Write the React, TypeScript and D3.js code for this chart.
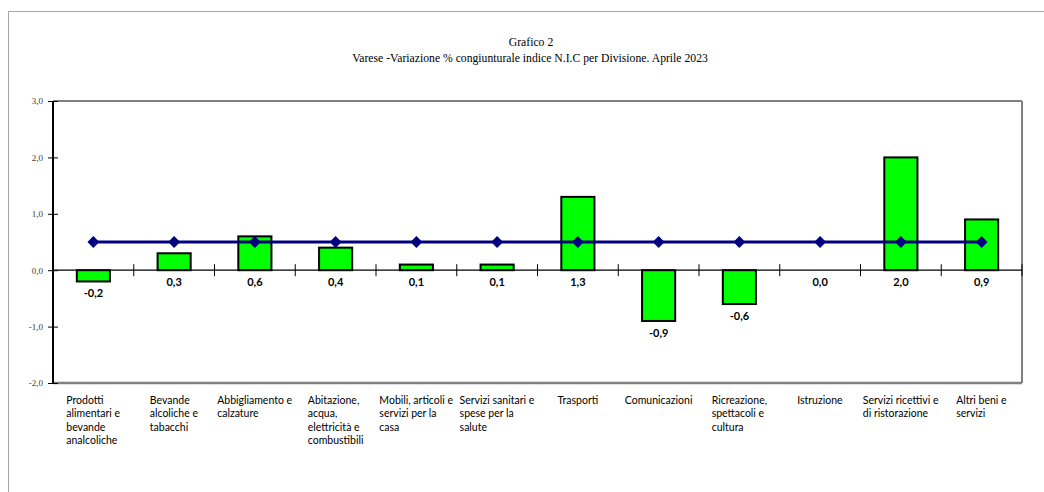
import React, { useEffect, useRef } from "react";
import * as d3 from "d3";

const categories = [
  ["Prodotti", "alimentari e", "bevande", "analcoliche"],
  ["Bevande", "alcoliche e", "tabacchi"],
  ["Abbigliamento e", "calzature"],
  ["Abitazione,", "acqua,", "elettricità e", "combustibili"],
  ["Mobili, articoli e", "servizi per la", "casa"],
  ["Servizi sanitari e", "spese per la", "salute"],
  ["Trasporti"],
  ["Comunicazioni"],
  ["Ricreazione,", "spettacoli e", "cultura"],
  ["Istruzione"],
  ["Servizi ricettivi e", "di ristorazione"],
  ["Altri beni e", "servizi"],
];
const varese = [-0.2, 0.3, 0.6, 0.4, 0.1, 0.1, 1.3, -0.9, -0.6, 0.0, 2.0, 0.9];
const generale = [0.5, 0.5, 0.5, 0.5, 0.5, 0.5, 0.5, 0.5, 0.5, 0.5, 0.5, 0.5];
const yTicks = [-2, -1, 0, 1, 2, 3];

const fmt = (v: number) => v.toFixed(1).replace(".", ",");

export default function App() {
  const ref = useRef<SVGSVGElement>(null);

  useEffect(() => {
    const width = 1044;
    const height = 492;
    const margin = { top: 101, right: 22, bottom: 109, left: 53 };
    const innerW = width - margin.left - margin.right;
    const innerH = height - margin.top - margin.bottom;

    const svg = d3.select(ref.current).attr("width", width).attr("height", height);
    svg.selectAll("*").remove();

    // outer frame
    svg.append("rect").attr("x", 8.5).attr("y", 11.5).attr("width", 1100).attr("height", 600)
      .attr("fill", "none").attr("stroke", "#a6a6a6").attr("stroke-width", 1);

    svg.append("text").attr("x", 531).attr("y", 46).attr("text-anchor", "middle")
      .attr("font-family", "'Liberation Serif', serif").attr("font-size", 11.7).text("Grafico 2");
    svg.append("text").attr("x", 530).attr("y", 62).attr("text-anchor", "middle")
      .attr("font-family", "'Liberation Serif', serif").attr("font-size", 11.7)
      .text("Varese -Variazione % congiunturale indice N.I.C per Divisione. Aprile 2023");

    const g = svg.append("g").attr("transform", `translate(${margin.left},${margin.top})`);

    const x = d3.scaleBand<number>().domain(d3.range(categories.length)).range([0, innerW]).paddingInner(0).paddingOuter(0);
    const y = d3.scaleLinear().domain([-2, 3]).range([innerH, 0]);

    // plot border (top, right gray; bottom thick gray)
    g.append("line").attr("x1", 0).attr("x2", innerW).attr("y1", 0).attr("y2", 0).attr("stroke", "#808080").attr("stroke-width", 2);
    g.append("line").attr("x1", innerW).attr("x2", innerW).attr("y1", 0).attr("y2", innerH).attr("stroke", "#808080").attr("stroke-width", 2);
    g.append("line").attr("x1", 0).attr("x2", innerW).attr("y1", innerH).attr("y2", innerH).attr("stroke", "#808080").attr("stroke-width", 2.5);

    // y axis
    const yAxis = g.append("g").call(d3.axisLeft(y).tickValues(yTicks).tickSize(0).tickFormat((d) => fmt(+d)));
    yAxis.select(".domain").remove();
    yAxis.selectAll(".tick line").remove();
    yAxis.selectAll(".tick").append("line").attr("x1", -5).attr("x2", 5).attr("stroke", "#000");
    yAxis.selectAll("text").attr("x", -10).attr("font-family", "'Liberation Serif', serif")
      .attr("font-size", 9).attr("fill", "#404040");
    g.append("line").attr("x1", 0).attr("x2", 0).attr("y1", 0).attr("y2", innerH).attr("stroke", "#000").attr("stroke-width", 2);

    // bars
    const bw = x.bandwidth() * 0.41;
    g.selectAll(".bar").data(varese).join("rect").attr("class", "bar")
      .attr("x", (d, i) => x(i)! + x.bandwidth() / 2 - bw / 2)
      .attr("y", (d) => y(Math.max(0, d)))
      .attr("width", bw)
      .attr("height", (d) => Math.abs(y(d) - y(0)))
      .attr("fill", "#00ff00").attr("stroke", "#000").attr("stroke-width", 2)
      .style("display", (d) => (d === 0 ? "none" : null));

    // zero line + category ticks
    g.append("line").attr("x1", 0).attr("x2", innerW).attr("y1", y(0)).attr("y2", y(0)).attr("stroke", "#000").attr("stroke-width", 1.2);
    g.selectAll(".ctick").data(d3.range(1, categories.length + 1)).join("line").attr("class", "ctick")
      .attr("x1", (i) => (i * innerW) / categories.length).attr("x2", (i) => (i * innerW) / categories.length)
      .attr("y1", y(0) - 6).attr("y2", y(0) + 6).attr("stroke", "#000");

    // line series
    const line = d3.line<number>().x((d, i) => x(i)! + x.bandwidth() / 2).y((d) => y(d));
    g.append("path").datum(generale).attr("d", line).attr("fill", "none").attr("stroke", "#000080").attr("stroke-width", 3);
    g.selectAll(".mk").data(generale).join("path").attr("class", "mk")
      .attr("d", d3.symbol(d3.symbolDiamond2, 90))
      .attr("transform", (d, i) => `translate(${x(i)! + x.bandwidth() / 2},${y(d)})`)
      .attr("fill", "#000080");

    // value labels
    g.selectAll(".val").data(varese).join("text").attr("class", "val")
      .attr("x", (d, i) => x(i)! + x.bandwidth() / 2)
      .attr("y", (d) => Math.max(y(0), y(d)) + 16)
      .attr("text-anchor", "middle").attr("font-family", "Lato, sans-serif").attr("font-weight", "bold")
      .attr("font-size", 11).text((d) => fmt(d));

    // category labels: left-aligned block centered in band
    categories.forEach((lines, i) => {
      const t = g.append("text").attr("font-family", "Lato, sans-serif").attr("font-size", 10.5).attr("fill", "#000");
      lines.forEach((l, j) => {
        t.append("tspan").attr("x", 0).attr("y", innerH + 21 + j * 13.4).text(l);
      });
      const w = (t.node() as SVGTextElement).getBBox().width;
      t.attr("transform", `translate(${x(i)! + x.bandwidth() / 2 - w / 2},0)`);
    });
  }, []);

  return (
    <div style={{ position: "absolute", left: 0, top: 0 }}>
      <svg ref={ref} style={{ display: "block" }}></svg>
    </div>
  );
}
